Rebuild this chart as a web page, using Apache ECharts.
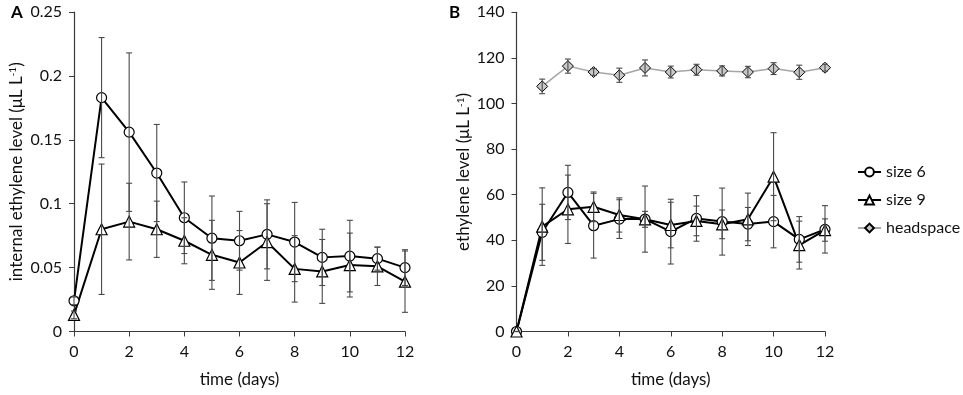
<!DOCTYPE html>
<html>
<head>
<meta charset="utf-8">
<script src="https://cdn.jsdelivr.net/npm/echarts@6/dist/echarts.min.js"></script>
<style>
  html, body { margin: 0; padding: 0; background: #fff; }
  #chart { width: 963px; height: 395px; }
</style>
</head>
<body>
<div id="chart"></div>
<script>
const days = [0, 1, 2, 3, 4, 5, 6, 7, 8, 9, 10, 11, 12];
const headDays = [1, 2, 3, 4, 5, 6, 7, 8, 9, 10, 11, 12];

// panel A: internal ethylene (µL/L)
const size6A = [0.024, 0.183, 0.156, 0.124, 0.089, 0.073, 0.071, 0.076, 0.070, 0.058, 0.059, 0.057, 0.050];
const size6AErr = [0.003, 0.047, 0.062, 0.038, 0.028, 0.033, 0.023, 0.027, 0.031, 0.022, 0.028, 0.009, 0.014];
const size9A = [0.013, 0.080, 0.086, 0.080, 0.071, 0.060, 0.054, 0.070, 0.049, 0.047, 0.052, 0.051, 0.039];
const size9AErr = [0.003, 0.051, 0.030, 0.022, 0.018, 0.027, 0.025, 0.030, 0.026, 0.025, 0.025, 0.015, 0.024];

// panel B: ethylene in package (µL/L)
const size6B = [0, 43.5, 61, 46.4, 49.3, 49.3, 43.8, 49.6, 48.2, 47.1, 48.2, 40.4, 44.8];
const size6BErr = [0, 12.3, 11.9, 14.2, 8.5, 14.5, 14.2, 10, 14.7, 7.3, 11.5, 10, 10.4];
const size9B = [0, 46, 53.6, 54.7, 51.1, 49.2, 46.7, 48.5, 47, 49.2, 67.9, 37.9, 44.5];
const size9BErr = [0, 17, 15, 6.5, 7.5, 3.5, 10, 6.5, 6.3, 11.5, 19.3, 10.5, 4.9];
const head = [107.5, 116.4, 113.8, 112.4, 115.6, 113.8, 114.8, 114.3, 113.8, 115.3, 113.7, 115.7];
const headErr = [3.2, 3.1, 1.5, 3.1, 3.5, 2.6, 2.4, 2.2, 2.5, 2.6, 3.1, 1.5];

const yTicksA = {min: 0, max: 0.25, interval: 0.05};
const yTicksB = {min: 0, max: 140, interval: 20};

const font = 'Lato';
const axisColor = '#3a3a3a';

const pairs = (xs, ys) => xs.map((x, i) => [x, ys[i]]);
const errData = (xs, ys, es) => xs.map((x, i) => [x, ys[i] - es[i], ys[i] + es[i]]);

function errorBars(idx, data) {
  return {
    type: 'custom',
    xAxisIndex: idx,
    yAxisIndex: idx,
    z: 5,
    silent: true,
    data: data,
    renderItem: (params, api) => {
      const lo = api.coord([api.value(0), api.value(1)]);
      const hi = api.coord([api.value(0), api.value(2)]);
      const w = 3;
      const style = {stroke: '#4a4a4a', lineWidth: 1.1};
      return {
        type: 'group',
        children: [
          {type: 'line', shape: {x1: lo[0], y1: lo[1], x2: hi[0], y2: hi[1]}, style},
          {type: 'line', shape: {x1: lo[0] - w, y1: lo[1], x2: lo[0] + w, y2: lo[1]}, style},
          {type: 'line', shape: {x1: hi[0] - w, y1: hi[1], x2: hi[0] + w, y2: hi[1]}, style},
        ]
      };
    }
  };
}

function lineSeries(idx, name, data, symbol, opts) {
  return Object.assign({
    type: 'line',
    name: name,
    xAxisIndex: idx,
    yAxisIndex: idx,
    data: data,
    symbol: symbol,
    symbolSize: symbol === 'triangle' ? 11 : 10,
    showAllSymbol: true,
    z: 3,
    lineStyle: {color: '#000', width: 2},
    itemStyle: {color: '#fff', borderColor: '#000', borderWidth: 1.2},
    emphasis: {disabled: true},
  }, opts || {});
}

const xAxisBase = {
  type: 'value', min: 0, max: 12, interval: 2,
  name: 'time (days)', nameLocation: 'middle', nameGap: 40,
  nameTextStyle: {fontFamily: font, fontSize: 17, color: '#111'},
  axisLine: {show: true, lineStyle: {color: axisColor, width: 1.2}},
  axisTick: {show: true, length: 5, lineStyle: {color: axisColor}},
  axisLabel: {fontFamily: font, fontSize: 16, color: '#111', margin: 12},
  splitLine: {show: false},
};

const yAxisBase = {
  type: 'value',
  nameLocation: 'middle',
  nameRotate: 90,
  axisLine: {show: true, lineStyle: {color: axisColor, width: 1.2}},
  axisTick: {show: true, length: 5, lineStyle: {color: axisColor}},
  axisLabel: {fontFamily: font, fontSize: 16, color: '#111', margin: 12},
  splitLine: {show: false},
};

const nameRich = {
  fontFamily: font, fontSize: 17, color: '#111',
  rich: {sup: {fontFamily: font, fontSize: 10, color: '#111', verticalAlign: 'top', padding: [0, 0, 7, 0]}}
};

const chart = echarts.init(document.getElementById('chart'));
chart.setOption({
  animation: false,
  backgroundColor: '#fff',
  textStyle: {fontFamily: font},
  grid: [
    {left: 74, top: 12, width: 331, height: 319.5},
    {left: 516.5, top: 12.3, width: 308.5, height: 319.2},
  ],
  xAxis: [
    Object.assign({gridIndex: 0}, xAxisBase),
    Object.assign({gridIndex: 1}, xAxisBase),
  ],
  yAxis: [
    Object.assign({gridIndex: 0, name: 'internal ethylene level (μL L{sup|-1})', nameGap: 49, nameTextStyle: nameRich}, yTicksA, yAxisBase),
    Object.assign({gridIndex: 1, name: 'ethylene level (μL L{sup|-1})', nameGap: 44, nameTextStyle: nameRich}, yTicksB, yAxisBase),
  ],
  legend: {
    orient: 'vertical',
    left: 852,
    top: 159,
    itemWidth: 23,
    itemHeight: 11,
    itemGap: 12,
    textStyle: {fontFamily: font, fontSize: 16, color: '#111'},
    data: ['size 6', 'size 9', 'headspace'],
  },
  graphic: [
    {type: 'text', left: 11, top: 4, style: {text: 'A', fontFamily: font, fontSize: 17, fontWeight: 'bold', fill: '#000'}},
    {type: 'text', left: 449, top: 4, style: {text: 'B', fontFamily: font, fontSize: 17, fontWeight: 'bold', fill: '#000'}},
  ],
  series: [
    lineSeries(0, 'size 6', pairs(days, size6A), 'circle'),
    lineSeries(0, 'size 9', pairs(days, size9A), 'triangle'),
    errorBars(0, errData(days, size6A, size6AErr)),
    errorBars(0, errData(days, size9A, size9AErr)),
    lineSeries(1, 'headspace', pairs(headDays, head), 'diamond', {
      symbolSize: 11,
      lineStyle: {color: '#a6a6a6', width: 1.5},
      itemStyle: {color: '#c8c8c8', borderColor: '#000', borderWidth: 1},
    }),
    lineSeries(1, 'size 6', pairs(days, size6B), 'circle'),
    lineSeries(1, 'size 9', pairs(days, size9B), 'triangle'),
    errorBars(1, errData(headDays, head, headErr)),
    errorBars(1, errData(days, size6B, size6BErr)),
    errorBars(1, errData(days, size9B, size9BErr)),
  ]
});
</script>
</body>
</html>
